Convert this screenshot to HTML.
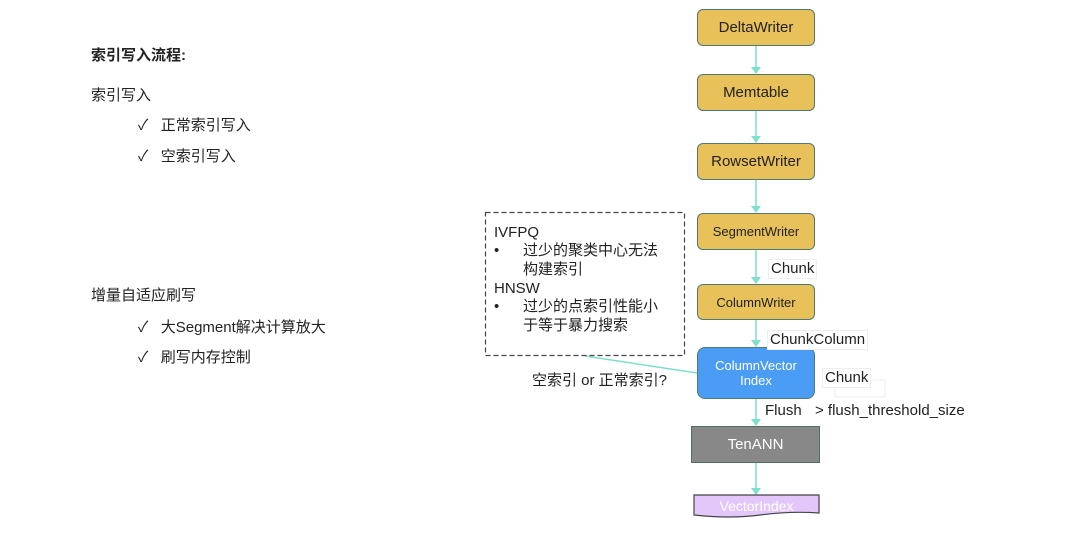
<!DOCTYPE html>
<html><head><meta charset="utf-8"><style>
body{margin:0;width:1080px;height:533px;background:#fff;position:relative;overflow:hidden;font-family:"Liberation Sans","Noto Sans CJK SC",sans-serif;color:#222}
.t{position:absolute;font-size:15px;white-space:nowrap;line-height:18px}
.b{position:absolute;box-sizing:border-box;border:1.5px solid #4f7a6e;border-radius:6px;background:#e8c15a;display:flex;align-items:center;justify-content:center;font-size:15px;color:#222;text-align:center}
.l{position:absolute;background:#fff;font-size:15px;line-height:18px;padding:0 2px}
</style></head><body>
<div class="t" style="left:91px;top:47px;font-weight:bold">索引写入流程:</div>
<div class="t" style="left:91px;top:87px">索引写入</div>
<div class="t" style="left:138px;top:117px">✓&nbsp;&nbsp; 正常索引写入</div>
<div class="t" style="left:138px;top:148px">✓&nbsp;&nbsp; 空索引写入</div>
<div class="t" style="left:91px;top:287px">增量自适应刷写</div>
<div class="t" style="left:138px;top:319px">✓&nbsp;&nbsp; 大Segment解决计算放大</div>
<div class="t" style="left:138px;top:349px">✓&nbsp;&nbsp; 刷写内存控制</div>

<svg style="position:absolute;left:0;top:0" width="1080" height="533">
<defs><marker id="a" markerWidth="8" markerHeight="8" refX="4" refY="6" orient="auto"><path d="M0,0 L8,0 L4,7z" fill="#7ee0cc" transform="rotate(0)"/></marker></defs>
<g stroke="#7ee0cc" stroke-width="1.5">
<line x1="756" y1="46" x2="756" y2="73"/><line x1="756" y1="111" x2="756" y2="142"/>
<line x1="756" y1="180" x2="756" y2="212"/><line x1="756" y1="250" x2="756" y2="283"/>
<line x1="756" y1="320" x2="756" y2="346"/><line x1="756" y1="399" x2="756" y2="425"/>
<line x1="756" y1="463" x2="756" y2="494"/>
<line x1="585" y1="356" x2="697" y2="373"/>
</g>
<g fill="#7ee0cc">
<path d="M751,67 L761,67 L756,74z"/><path d="M751,136 L761,136 L756,143z"/><path d="M751,206 L761,206 L756,213z"/>
<path d="M751,277 L761,277 L756,284z"/><path d="M751,340 L761,340 L756,347z"/><path d="M751,419 L761,419 L756,426z"/><path d="M751,488 L761,488 L756,495z"/>
</g>
<rect x="485.5" y="212.5" width="199" height="143" fill="none" stroke="#444" stroke-width="1.2" stroke-dasharray="5,3"/>
<path d="M694,495 L819,495 L819,513 Q790,511 760,515 Q730,519 694,515z" fill="#e3c7fb" stroke="#444" stroke-width="1.2"/>
<rect x="835" y="380" width="50" height="17" fill="none" stroke="#eee"/>
</svg>

<div class="t" style="left:494px;top:224px">IVFPQ</div>
<div class="t" style="left:494px;top:242px">•</div>
<div class="t" style="left:523px;top:242px">过少的聚类中心无法</div>
<div class="t" style="left:523px;top:261px">构建索引</div>
<div class="t" style="left:494px;top:280px">HNSW</div>
<div class="t" style="left:494px;top:298px">•</div>
<div class="t" style="left:523px;top:298px">过少的点索引性能小</div>
<div class="t" style="left:523px;top:317px">于等于暴力搜索</div>

<div class="b" style="left:697px;top:9px;width:118px;height:37px">DeltaWriter</div>
<div class="b" style="left:697px;top:74px;width:118px;height:37px">Memtable</div>
<div class="b" style="left:697px;top:143px;width:118px;height:37px">RowsetWriter</div>
<div class="b" style="left:697px;top:213px;width:118px;height:37px;font-size:13px">SegmentWriter</div>
<div class="b" style="left:697px;top:284px;width:118px;height:36px;font-size:13px">ColumnWriter</div>
<div class="b" style="left:697px;top:347px;width:118px;height:52px;background:#4b9cf5;color:#fff;font-size:13px;border-radius:8px;line-height:15px">ColumnVector<br>Index</div>
<div class="b" style="left:691px;top:426px;width:129px;height:37px;background:#888;color:#fff;border-radius:0;border-color:#4f6e66">TenANN</div>
<div class="t" style="left:694px;top:497px;width:125px;text-align:center;color:#fff;font-size:14px">VectorIndex</div>

<div class="l" style="left:768px;top:259px;border:1px solid #eee">Chunk</div>
<div class="l" style="left:767px;top:330px;border:1px solid #eee">ChunkColumn</div>
<div class="l" style="left:822px;top:368px;border:1px solid #eee">Chunk</div>
<div class="t" style="left:765px;top:402px">Flush</div>
<div class="t" style="left:815px;top:402px">&gt; flush_threshold_size</div>
<div class="t" style="left:532px;top:372px">空索引 or 正常索引?</div>
</body></html>
